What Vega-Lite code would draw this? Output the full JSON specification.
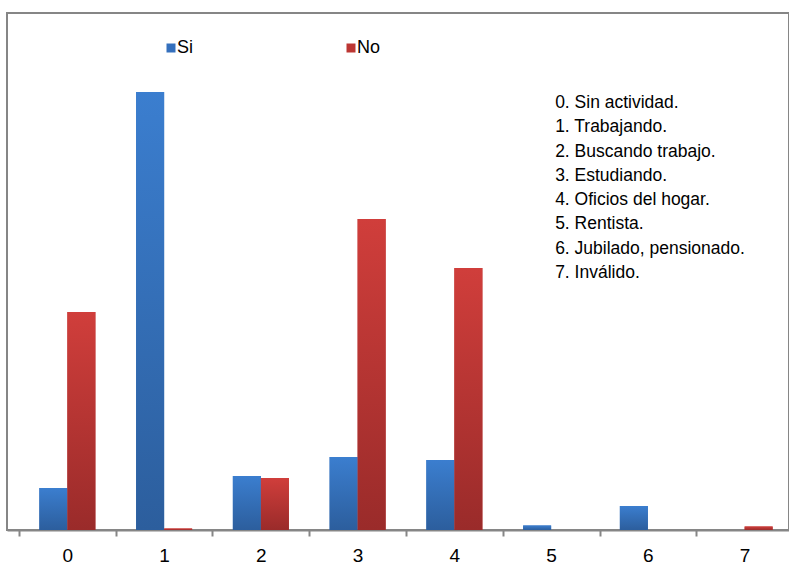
{
  "$schema": "https://vega.github.io/schema/vega-lite/v6.json",
  "width": 782,
  "height": 517,
  "autosize": {"type": "none"},
  "padding": {"left": 7, "top": 13, "right": 0, "bottom": 57},
  "background": "white",
  "config": {
    "font": "Liberation Sans, Arial, sans-serif",
    "view": {"stroke": "#868686", "strokeWidth": 2}
  },
  "datasets": {
    "barras": [
      {"cat": "0", "serie": "Si", "valor": 42},
      {"cat": "0", "serie": "No", "valor": 218},
      {"cat": "1", "serie": "Si", "valor": 438},
      {"cat": "1", "serie": "No", "valor": 1.5},
      {"cat": "2", "serie": "Si", "valor": 54},
      {"cat": "2", "serie": "No", "valor": 52},
      {"cat": "3", "serie": "Si", "valor": 73},
      {"cat": "3", "serie": "No", "valor": 311},
      {"cat": "4", "serie": "Si", "valor": 70},
      {"cat": "4", "serie": "No", "valor": 262},
      {"cat": "5", "serie": "Si", "valor": 4.5},
      {"cat": "5", "serie": "No", "valor": 0},
      {"cat": "6", "serie": "Si", "valor": 24},
      {"cat": "6", "serie": "No", "valor": 0},
      {"cat": "7", "serie": "Si", "valor": 0},
      {"cat": "7", "serie": "No", "valor": 3.5}
    ],
    "leyenda": [
      {"code": 0, "desc": "0. Sin actividad."},
      {"code": 1, "desc": "1. Trabajando."},
      {"code": 2, "desc": "2. Buscando trabajo."},
      {"code": 3, "desc": "3. Estudiando."},
      {"code": 4, "desc": "4. Oficios del hogar."},
      {"code": 5, "desc": "5. Rentista."},
      {"code": 6, "desc": "6. Jubilado, pensionado."},
      {"code": 7, "desc": "7. Inválido."}
    ]
  },
  "layer": [
    {
      "data": {"name": "barras"},
      "mark": {"type": "bar"},
      "encoding": {
        "x": {
          "field": "cat",
          "type": "nominal",
          "sort": ["0", "1", "2", "3", "4", "5", "6", "7"],
          "scale": {"range": [0, 798], "paddingInner": 0, "paddingOuter": 0.124},
          "axis": {
            "title": null,
            "labelAngle": 0,
            "tickBand": "extent",
            "domainColor": "#868686",
            "domainWidth": 2,
            "tickColor": "#868686",
            "tickWidth": 2,
            "tickSize": 6,
            "labelFontSize": 19,
            "labelColor": "black",
            "labelPadding": 10
          }
        },
        "xOffset": {
          "field": "serie",
          "type": "nominal",
          "sort": ["Si", "No"],
          "scale": {"paddingInner": 0, "paddingOuter": 0.727}
        },
        "y": {
          "field": "valor",
          "type": "quantitative",
          "scale": {"domain": [0, 517], "nice": false},
          "axis": null
        },
        "color": {
          "field": "serie",
          "type": "nominal",
          "sort": ["Si", "No"],
          "scale": {"domain": ["Si", "No"], "range": ["#3570BD", "#BC3633"]},
          "legend": {
            "title": null,
            "orient": "none",
            "direction": "horizontal",
            "legendX": 155,
            "legendY": 26,
            "padding": 0,
            "columnPadding": 148,
            "symbolType": "square",
            "symbolSize": 81,
            "symbolStrokeWidth": 0,
            "labelFontSize": 18,
            "labelColor": "black",
            "labelOffset": -3
          }
        }
      }
    },
    {
      "data": {"name": "barras"},
      "mark": {"type": "bar"},
      "encoding": {
        "x": {"field": "cat", "type": "nominal", "sort": ["0", "1", "2", "3", "4", "5", "6", "7"]},
        "xOffset": {"field": "serie", "type": "nominal", "sort": ["Si", "No"]},
        "y": {
          "field": "valor",
          "type": "quantitative",
          "scale": {"domain": [0, 517], "nice": false},
          "axis": null
        },
        "fill": {
          "condition": {
            "test": "datum.serie === 'Si'",
            "value": {
              "gradient": "linear", "x1": 0, "y1": 0, "x2": 0, "y2": 1,
              "stops": [{"offset": 0, "color": "#3B7ECF"}, {"offset": 1, "color": "#2C5E9D"}]
            }
          },
          "value": {
            "gradient": "linear", "x1": 0, "y1": 0, "x2": 0, "y2": 1,
            "stops": [{"offset": 0, "color": "#D03E3B"}, {"offset": 1, "color": "#9A2B2A"}]
          }
        }
      }
    },
    {
      "data": {"name": "leyenda"},
      "mark": {"type": "text", "align": "left", "baseline": "middle", "fontSize": 17.5, "color": "black", "dx": 4},
      "encoding": {
        "x": {"datum": "5", "type": "nominal"},
        "y": {
          "field": "code",
          "type": "ordinal",
          "scale": {"type": "point", "range": [90, 260], "padding": 0},
          "axis": null
        },
        "text": {"field": "desc"}
      }
    }
  ],
  "resolve": {"scale": {"y": "independent"}}
}
